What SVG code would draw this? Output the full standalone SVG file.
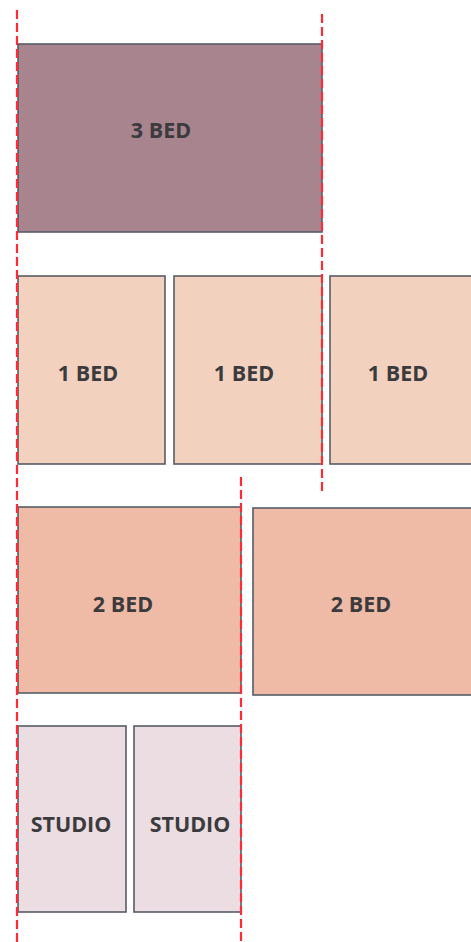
<svg xmlns="http://www.w3.org/2000/svg" width="471" height="942" viewBox="0 0 471 942">
<style>
.box{stroke:#585c66;stroke-width:1.6}
.t{font-family:"Open Sans","Liberation Sans",sans-serif;font-weight:bold;font-size:21.5px;fill:#3b3b3e;text-anchor:middle;dominant-baseline:central}
.b3{fill:#a8848f}
.b1{fill:#f2d2bf}
.b2{fill:#f0bba6}
.st{fill:#ecdde2}
.guide{stroke:#ff2a36;stroke-width:2.2;stroke-dasharray:9 4;fill:none}
</style>
<rect width="471" height="942" fill="#ffffff"/>
<g id="n3bed"><rect class="box b3" x="18" y="44" width="304" height="188"/><text class="t" x="161" y="129">3 BED</text></g>
<g id="n1bed-a"><rect class="box b1" x="18" y="276" width="147" height="188"/><text class="t" x="88" y="372">1 BED</text></g>
<g id="n1bed-b"><rect class="box b1" x="174" y="276" width="148" height="188"/><text class="t" x="244" y="372">1 BED</text></g>
<g id="n1bed-c"><rect class="box b1" x="330" y="276" width="145" height="188"/><text class="t" x="398" y="372">1 BED</text></g>
<g id="n2bed-a"><rect class="box b2" x="18" y="507" width="223" height="186"/><text class="t" x="123" y="603">2 BED</text></g>
<g id="n2bed-b"><rect class="box b2" x="253" y="508" width="222" height="187"/><text class="t" x="361" y="603">2 BED</text></g>
<g id="nstudio-a"><rect class="box st" x="18" y="726" width="108" height="186"/><text class="t" x="71" y="823">STUDIO</text></g>
<g id="nstudio-b"><rect class="box st" x="134" y="726" width="107" height="186"/><text class="t" x="190" y="823">STUDIO</text></g>
<g id="guides">
<line class="guide" x1="17" y1="10" x2="17" y2="942"/>
<line class="guide" x1="322" y1="14" x2="322" y2="492"/>
<line class="guide" x1="241" y1="477" x2="241" y2="942"/>
</g>
</svg>
